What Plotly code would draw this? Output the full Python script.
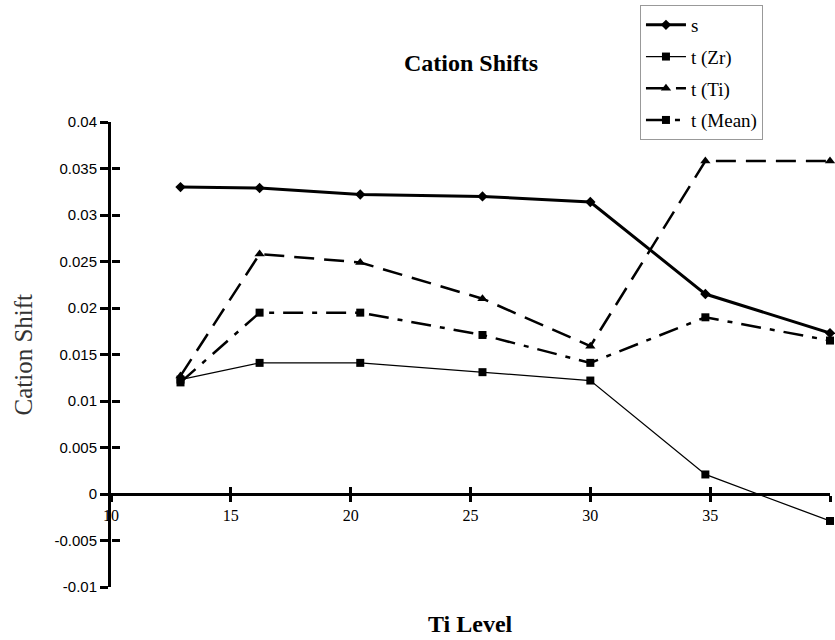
import plotly.graph_objects as go

ti_level = [12.9, 16.2, 20.4, 25.5, 30.0, 34.8, 40.0]
s_vals = [0.0330, 0.0329, 0.0322, 0.0320, 0.0314, 0.0215, 0.0173]
t_zr = [0.0123, 0.0141, 0.0141, 0.0131, 0.0122, 0.0021, -0.0029]
t_ti = [0.0127, 0.0258, 0.0249, 0.0210, 0.0159, 0.0358, 0.0358]
t_mean = [0.0120, 0.0195, 0.0195, 0.0171, 0.0141, 0.0190, 0.0165]

series_names = ["s", "t (Zr)", "t (Ti)", "t (Mean)"]
x_tickvals = [10, 15, 20, 25, 30, 35, 40]
x_ticktext = ["10", "15", "20", "25", "30", "35", "40"]
y_tickvals = [-0.01, -0.005, 0, 0.005, 0.01, 0.015, 0.02, 0.025, 0.03, 0.035, 0.04]
y_ticktext = ["-0.01", "-0.005", "0", "0.005", "0.01", "0.015", "0.02", "0.025", "0.03", "0.035", "0.04"]

X_RANGE = [10, 40]
Y_RANGE = [-0.01, 0.04]

fig = go.Figure()
fig.add_trace(go.Scatter(x=ti_level, y=s_vals, name=series_names[0], mode="lines+markers",
                         line=dict(color="black", width=3),
                         marker=dict(symbol="diamond", size=8, color="black"),
                         legendgroup="a", cliponaxis=False))
fig.add_trace(go.Scatter(x=ti_level, y=t_zr, name=series_names[1], mode="lines+markers",
                         line=dict(color="black", width=1.3),
                         marker=dict(symbol="square", size=8, color="black"),
                         legendgroup="b", cliponaxis=False))
fig.add_trace(go.Scatter(x=ti_level, y=t_ti, name=series_names[2], mode="lines+markers",
                         line=dict(color="black", width=2.5, dash="20px,10px"),
                         marker=dict(symbol="triangle-up", size=9, color="black"),
                         legendgroup="c", cliponaxis=False))
fig.add_trace(go.Scatter(x=ti_level, y=t_mean, name=series_names[3], mode="lines+markers",
                         line=dict(color="black", width=2.5, dash="20px,9px,5px,9px"),
                         marker=dict(symbol="square", size=8, color="black"),
                         legendgroup="d", cliponaxis=False))
# carrier (draws nothing) so the overlay axes with inward ticks are rendered
fig.add_trace(go.Scatter(x=ti_level, y=s_vals, mode="none", xaxis="x2", yaxis="y2",
                         showlegend=False, hoverinfo="skip"))

tick_font_x = dict(family="Liberation Serif", size=16, color="black")
tick_font_y = dict(family="Liberation Sans", size=15, color="black")

fig.update_layout(
    width=835, height=640,
    margin=dict(l=111, r=5, t=122, b=53),
    paper_bgcolor="white", plot_bgcolor="white",
    showlegend=True,
    legend=dict(x=0.7357, y=1.2516, xanchor="left", yanchor="top",
                bgcolor="white", bordercolor="#999999", borderwidth=1,
                font=dict(family="Liberation Serif", size=19, color="black"),
                tracegroupgap=4, itemwidth=40),
    xaxis=dict(range=X_RANGE, tickvals=x_tickvals, ticktext=x_ticktext,
               anchor="free", position=0.2, showline=True, linecolor="black", linewidth=3,
               ticks="outside", ticklen=6, tickwidth=3, tickcolor="black",
               showgrid=False, zeroline=False, tickfont=tick_font_x),
    xaxis2=dict(range=X_RANGE, tickvals=x_tickvals, overlaying="x",
                anchor="free", position=0.2, showline=False,
                ticks="inside", ticklen=7, tickwidth=3, tickcolor="black",
                showticklabels=False, showgrid=False, zeroline=False),
    yaxis=dict(range=Y_RANGE, tickvals=y_tickvals, ticktext=y_ticktext,
               showline=True, linecolor="black", linewidth=3,
               ticks="outside", ticklen=8, tickwidth=3, tickcolor="black",
               showgrid=False, zeroline=False, tickfont=tick_font_y),
    yaxis2=dict(range=Y_RANGE, tickvals=y_tickvals, overlaying="y", side="left",
                anchor="free", position=0, showline=False,
                ticks="inside", ticklen=8, tickwidth=3, tickcolor="black",
                showticklabels=False, showgrid=False, zeroline=False),
    annotations=[
        dict(text="<b>Cation Shifts</b>", xref="paper", yref="paper", x=0.5, y=(587 - 63) / 465,
             xanchor="center", yanchor="middle", showarrow=False,
             font=dict(family="Liberation Serif", size=24, color="black")),
        dict(text="<b>Ti Level</b>", xref="paper", yref="paper", x=0.5, y=(587 - 624) / 465,
             xanchor="center", yanchor="middle", showarrow=False,
             font=dict(family="Liberation Serif", size=24, color="black")),
        dict(text="Cation Shift", xref="paper", yref="paper", x=(23 - 111) / 719, y=0.5,
             xanchor="center", yanchor="middle", showarrow=False, textangle=-90,
             font=dict(family="Liberation Serif", size=25, color="#333333")),
    ],
)

fig.write_html("out.html", config={"displayModeBar": False},
               post_script="document.body.style.margin='0';")
